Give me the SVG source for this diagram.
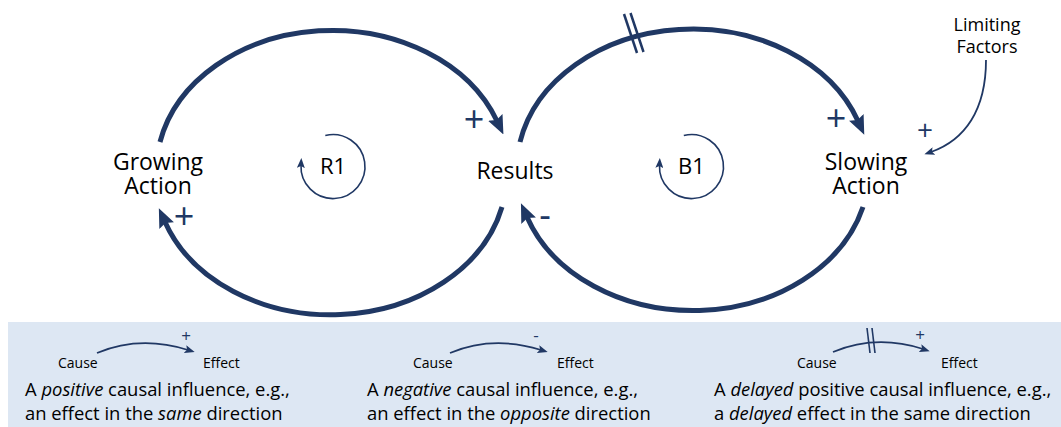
<svg xmlns="http://www.w3.org/2000/svg" width="1061" height="427" viewBox="0 0 1061 427">
<style>
text{font-family:'Open Sans','Noto Sans',sans-serif;fill:#000}
.lbl{font-size:23px;text-anchor:middle}
.loop{font-size:22px;text-anchor:middle}
.pol{font-size:36px;fill:#203864;text-anchor:middle}
.spol{font-size:17px;fill:#203864;text-anchor:middle}
.leg{font-size:14px}
.desc{font-size:18.4px}
.thick{fill:none;stroke:#203864;stroke-width:5}
.thin{fill:none;stroke:#203864;stroke-width:1.8}
.delay{stroke:#203864;stroke-width:2.5}
.dl{stroke:#203864;stroke-width:1.6}
</style>
<defs>
<marker id="big" markerUnits="userSpaceOnUse" viewBox="0 0 19 16" markerWidth="19" markerHeight="16" refX="4" refY="8" orient="auto"><path d="M0,0 L19,8 L0,16 L3,8 z" fill="#203864"/></marker>
<marker id="sm" markerUnits="userSpaceOnUse" viewBox="0 0 10 8" markerWidth="10" markerHeight="8" refX="3" refY="4" orient="auto"><path d="M0,0 L10,4 L0,8 L2,4 z" fill="#203864"/></marker>
</defs>
<rect x="8" y="322" width="1053" height="105" fill="#dde7f3"/>
<g id="connectors">
<path class="thick" d="M160,142 A176,140 0 0 1 497,121" marker-end="url(#big)"/>
<path class="thick" d="M502,207 A176,140 0 0 1 165,222" marker-end="url(#big)"/>
<path class="thick" d="M520,142 A176,140 0 0 1 858,121" marker-end="url(#big)"/>
<path class="thick" d="M863,207 A176,140 0 0 1 527,217" marker-end="url(#big)"/>
<line class="delay" x1="624" y1="14" x2="637" y2="53"/>
<line class="delay" x1="630.5" y1="13" x2="643.5" y2="52"/>
<path class="thin" d="M986,60 C986,110 965,140 931,152" marker-end="url(#sm)"/>
<text class="pol" x="474" y="132">+</text>
<text class="pol" x="184" y="229">+</text>
<text class="pol" x="836" y="131">+</text>
<text class="pol" x="545" y="228">-</text>
<text class="spol" x="925" y="140" style="font-size:28px">+</text>
</g>
<g id="R1">
<path class="thin" style="stroke-width:1.6" d="M325.3,135.5 A32,32 0 1 1 301,165" marker-end="url(#sm)"/>
<text class="loop" x="333" y="174">R1</text>
</g>
<g id="B1">
<path class="thin" style="stroke-width:1.6" d="M683.8,135.5 A32,32 0 1 1 659.5,165" marker-end="url(#sm)"/>
<text class="loop" x="691.5" y="174">B1</text>
</g>
<g id="growing-action">
<text class="lbl" x="158" y="170">Growing</text>
<text class="lbl" x="158" y="194">Action</text>
</g>
<g id="results">
<text class="lbl" x="515" y="179">Results</text>
</g>
<g id="slowing-action">
<text class="lbl" x="866" y="170">Slowing</text>
<text class="lbl" x="866" y="194">Action</text>
</g>
<g id="limiting-factors">
<text class="lbl" style="font-size:18px" x="987" y="31">Limiting</text>
<text class="lbl" style="font-size:18px" x="987" y="53">Factors</text>
</g>
<g id="legend-positive">
<path class="thin" d="M97,353 Q140,335 188,350" marker-end="url(#sm)"/>
<text class="spol" x="186" y="342">+</text>
<text class="leg" x="58" y="368">Cause</text>
<text class="leg" x="203" y="368">Effect</text>
<text class="desc" x="25" y="396">A <tspan font-style="italic">positive</tspan> causal influence, e.g.,</text>
<text class="desc" x="25" y="420">an effect in the <tspan font-style="italic">same</tspan> direction</text>
</g>
<g id="legend-negative">
<path class="thin" d="M450,353 Q493,335 541,350" marker-end="url(#sm)"/>
<text class="spol" x="536" y="341">-</text>
<text class="leg" x="413" y="368">Cause</text>
<text class="leg" x="557" y="368">Effect</text>
<text class="desc" x="367" y="396">A <tspan font-style="italic">negative</tspan> causal influence, e.g.,</text>
<text class="desc" x="367" y="420">an effect in the <tspan font-style="italic">opposite</tspan> direction</text>
</g>
<g id="legend-delayed">
<path class="thin" d="M833,352 Q876,334 923,349" marker-end="url(#sm)"/>
<line class="dl" x1="867" y1="328" x2="870" y2="353"/>
<line class="dl" x1="872" y1="328" x2="875" y2="353"/>
<text class="spol" x="920" y="341">+</text>
<text class="leg" x="797" y="368">Cause</text>
<text class="leg" x="941" y="368">Effect</text>
<text class="desc" x="714" y="396">A <tspan font-style="italic">delayed</tspan> positive causal influence, e.g.,</text>
<text class="desc" x="714" y="420">a <tspan font-style="italic">delayed</tspan> effect in the same direction</text>
</g>
</svg>
